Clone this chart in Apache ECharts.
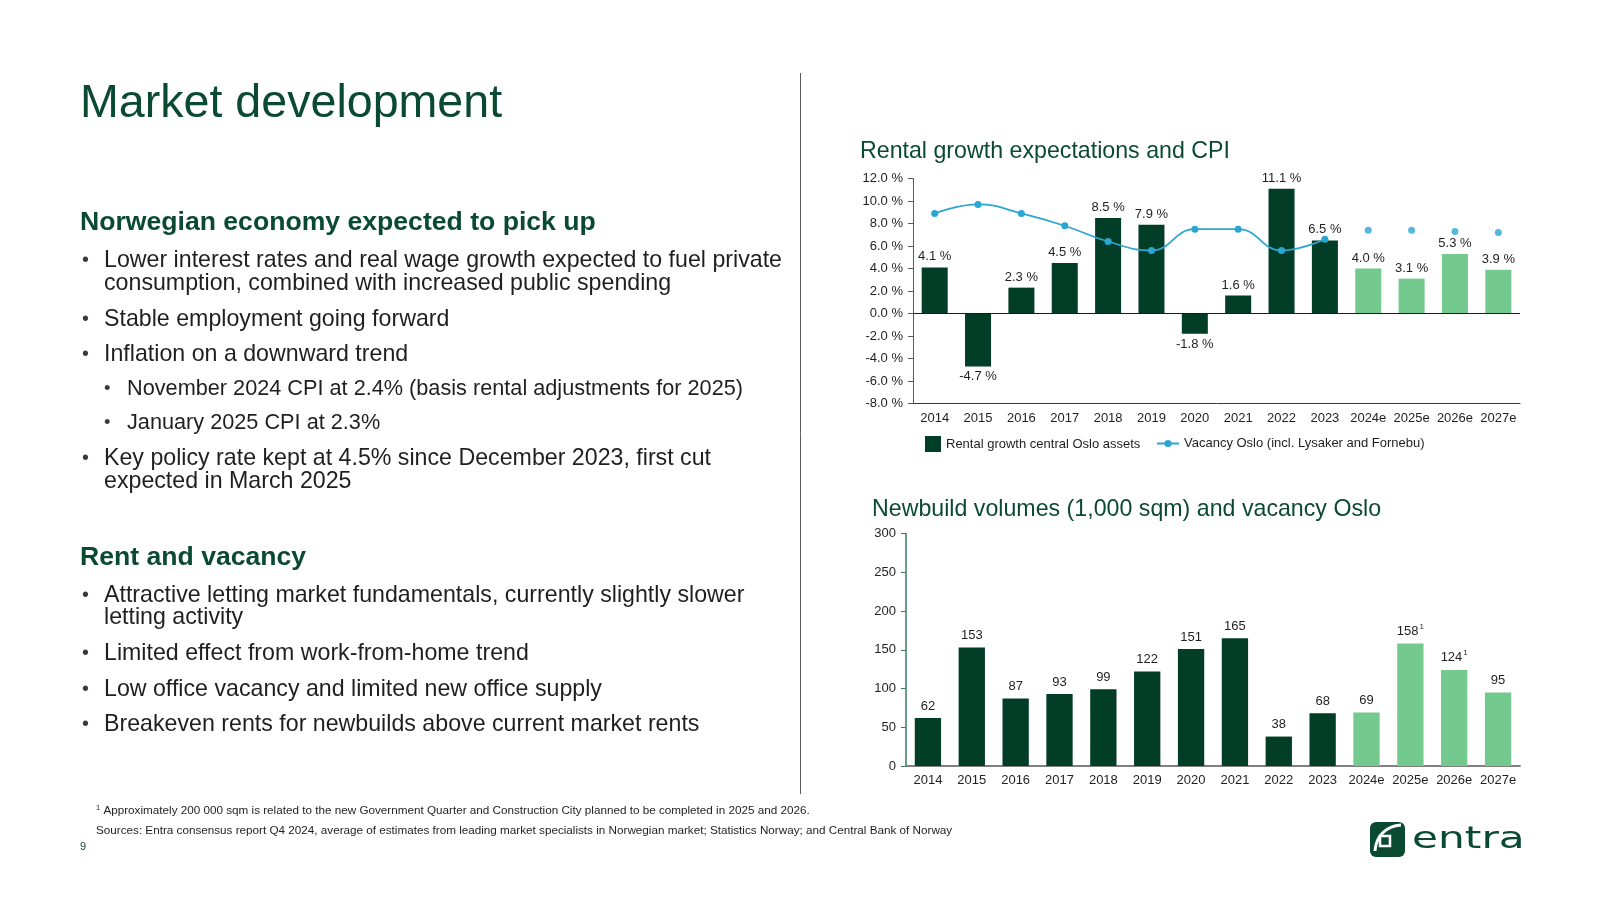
<!DOCTYPE html>
<html>
<head>
<meta charset="utf-8">
<script src="https://cdn.jsdelivr.net/npm/echarts/dist/echarts.min.js"></script>
<style>
html,body{margin:0;padding:0;background:#fff;}
#main{width:1600px;height:900px;}
</style>
</head>
<body>
<div id="main"></div>
<script>
// ---------- DATA ----------
const categories = ['2014','2015','2016','2017','2018','2019','2020','2021','2022','2023','2024e','2025e','2026e','2027e'];
const rentalGrowth = [4.1, -4.7, 2.3, 4.5, 8.5, 7.9, -1.8, 1.6, 11.1, 6.5, 4.0, 3.1, 5.3, 3.9];
const vacancyHistoric = [8.9, 9.7, 8.9, 7.8, 6.4, 5.6, 7.5, 7.5, 5.6, 6.6, null, null, null, null];
const vacancyForecast = [null, null, null, null, null, null, null, null, null, null, 7.4, 7.4, 7.3, 7.2];
const newbuildVolumes = [62, 153, 87, 93, 99, 122, 151, 165, 38, 68, 69, 158, 124, 95];
const newbuildNotes = ['', '', '', '', '', '', '', '', '', '', '', '1', '1', ''];
const rentalTicks = [-8, -6, -4, -2, 0, 2, 4, 6, 8, 10, 12];
const newbuildTicks = [0, 50, 100, 150, 200, 250, 300];

const slideTitle = 'Market development';
const chartTitle1 = 'Rental growth expectations and CPI';
const chartTitle2 = 'Newbuild volumes (1,000 sqm) and vacancy Oslo';
const legendBar = 'Rental growth central Oslo assets';
const legendLine = 'Vacancy Oslo (incl. Lysaker and Fornebu)';
const heading1 = 'Norwegian economy expected to pick up';
const bullets1 = [
  [1, ['Lower interest rates and real wage growth expected to fuel private', 'consumption, combined with increased public spending']],
  [1, ['Stable employment going forward']],
  [1, ['Inflation on a downward trend']],
  [2, ['November 2024 CPI at 2.4% (basis rental adjustments for 2025)']],
  [2, ['January 2025 CPI at 2.3%']],
  [1, ['Key policy rate kept at 4.5% since December 2023, first cut', 'expected in March 2025']]
];
const heading2 = 'Rent and vacancy';
const bullets2 = [
  [1, ['Attractive letting market fundamentals, currently slightly slower', 'letting activity']],
  [1, ['Limited effect from work-from-home trend']],
  [1, ['Low office vacancy and limited new office supply']],
  [1, ['Breakeven rents for newbuilds above current market rents']]
];
const footnote1 = 'Approximately 200 000 sqm is related to the new Government Quarter and Construction City planned to be completed in 2025 and 2026.';
const footnote2 = 'Sources: Entra consensus report Q4 2024, average of estimates from leading market specialists in Norwegian market; Statistics Norway; and Central Bank of Norway';
const pageNumber = '9';
const logoText = 'entra';

// ---------- STYLE ----------
const FONT = '"Liberation Sans", Arial, Helvetica, sans-serif';
const GREEN = '#0b4a32';
const DARK = '#023d28';
const LIGHT = '#74c98f';
const BLUE = '#2aa6d2';
const TXT = '#1f1f1f';
const isEst = c => /e$/.test(c);

const chart = echarts.init(document.getElementById('main'), null, {renderer: 'canvas'});

// ---------- LEFT TEXT (graphic) ----------
const g = [];
function txt(x, y, text, size, opts) {
  opts = opts || {};
  g.push({
    type: 'text', x: x, y: y, silent: true,
    scaleX: opts.scaleX || 1,
    style: {
      text: text, fontSize: size, fontFamily: opts.family || FONT,
      fontWeight: opts.weight || 'normal', fill: opts.fill || TXT,
      verticalAlign: opts.va || 'middle', align: opts.align || 'left'
    }
  });
}
txt(80, 104, slideTitle, 46.6, {fill: GREEN});

const BULLET_X1 = 82, TEXT_X1 = 104, BULLET_X2 = 104, TEXT_X2 = 127;
function block(headY, head, items, ys, lineGap) {
  txt(80, headY, head, 26.6, {fill: GREEN, weight: 'bold'});
  let k = 0;
  items.forEach(function (it) {
    const lvl = it[0], lines = it[1];
    const bx = lvl === 1 ? BULLET_X1 : BULLET_X2;
    const tx = lvl === 1 ? TEXT_X1 : TEXT_X2;
    const fs = lvl === 1 ? 23.2 : 21.7;
    txt(bx, ys[k], '\u2022', fs * 0.85, {fill: '#3a3a3a'});
    lines.forEach(function (ln, j) {
      txt(tx, ys[k] + j * lineGap, ln, fs, {fill: TXT});
    });
    k++;
  });
}
block(223, heading1, bullets1, [261, 320, 355, 389, 423, 459], 22.3);
block(558, heading2, bullets2, [596, 654, 690, 725], 21.5);

// footnotes
g.push({
  type: 'text', x: 96, y: 811, silent: true,
  style: {
    text: '{s|1} ' + footnote1, fontSize: 11.7, fontFamily: FONT, fill: TXT, verticalAlign: 'middle',
    rich: {s: {fontSize: 7.5, fontFamily: FONT, fill: TXT, verticalAlign: 'top', padding: [0, 0, 6, 0]}}
  }
});
txt(96, 831, footnote2, 11.7, {fill: TXT});
txt(80, 847, pageNumber, 11, {fill: GREEN});

// divider
g.push({type: 'line', silent: true, shape: {x1: 800.5, y1: 73, x2: 800.5, y2: 794}, style: {stroke: '#595959', lineWidth: 1}});

// chart titles
txt(860, 152, chartTitle1, 23.2, {fill: GREEN});
txt(872, 510, chartTitle2, 23.2, {fill: GREEN});

// logo
g.push({type: 'rect', silent: true, shape: {x: 1370, y: 822, width: 35, height: 35, r: 6}, style: {fill: GREEN}});
g.push({type: 'bezierCurve', silent: true,
  shape: {x1: 1375, y1: 851, cpx1: 1376, cpy1: 836, cpx2: 1386, cpy2: 826, x2: 1401, y2: 825},
  style: {stroke: '#fff', lineWidth: 3, fill: null}});
g.push({type: 'rect', silent: true, shape: {x: 1380, y: 836, width: 10, height: 10}, style: {fill: GREEN, stroke: '#fff', lineWidth: 2.5}});
txt(1412, 840, logoText, 30, {fill: GREEN, family: '"DejaVu Sans", sans-serif', scaleX: 1.41});

// ---------- CHARTS ----------
const barData1 = rentalGrowth.map(function (v, i) {
  return {
    value: v,
    itemStyle: {color: isEst(categories[i]) ? LIGHT : DARK},
    label: {position: v < 0 ? 'bottom' : 'top'}
  };
});
const barData2 = newbuildVolumes.map(function (v, i) {
  return {value: v, itemStyle: {color: isEst(categories[i]) ? LIGHT : DARK}};
});

const axisLabelStyle = {fontSize: 13, fontFamily: FONT, color: TXT};

const option = {
  animation: false,
  backgroundColor: '#fff',
  textStyle: {fontFamily: FONT},
  graphic: g,
  legend: [
    {
      data: [{name: legendBar, icon: 'rect'}],
      left: 920, top: 431, itemWidth: 16, itemHeight: 16, itemGap: 10,
      textStyle: {fontSize: 13, color: TXT, fontFamily: FONT}, selectedMode: false
    },
    {
      data: [legendLine],
      left: 1151, top: 432, itemWidth: 22, itemHeight: 9, itemGap: 10,
      textStyle: {fontSize: 13, color: TXT, fontFamily: FONT}, selectedMode: false
    }
  ],
  grid: [
    {left: 913, right: 80, top: 178.5, height: 225, containLabel: false},
    {left: 906, right: 80, top: 533.5, height: 232.5, containLabel: false}
  ],
  xAxis: [
    {
      gridIndex: 0, type: 'category', data: categories,
      axisLine: {onZero: false, lineStyle: {color: '#3a3a3a', width: 1}},
      axisTick: {show: false},
      axisLabel: Object.assign({margin: 8, interval: 0}, axisLabelStyle)
    },
    {
      gridIndex: 1, type: 'category', data: categories,
      axisLine: {lineStyle: {color: '#808080', width: 2}},
      axisTick: {show: false},
      axisLabel: Object.assign({margin: 8, interval: 0}, axisLabelStyle)
    }
  ],
  yAxis: [
    {
      gridIndex: 0, type: 'value',
      min: rentalTicks[0], max: rentalTicks[rentalTicks.length - 1], interval: rentalTicks[1] - rentalTicks[0],
      axisLine: {show: true, lineStyle: {color: '#595959', width: 1}},
      axisTick: {show: true, length: 5, lineStyle: {color: '#595959'}},
      splitLine: {show: false},
      axisLabel: Object.assign({margin: 10, formatter: function (v) { return v.toFixed(1) + ' %'; }}, axisLabelStyle)
    },
    {
      gridIndex: 1, type: 'value',
      min: newbuildTicks[0], max: newbuildTicks[newbuildTicks.length - 1], interval: newbuildTicks[1] - newbuildTicks[0],
      axisLine: {show: true, lineStyle: {color: '#3d7a63', width: 1.5}},
      axisTick: {show: true, length: 5, lineStyle: {color: '#3d7a63'}},
      splitLine: {show: false},
      axisLabel: Object.assign({margin: 10}, axisLabelStyle)
    }
  ],
  series: [
    {
      name: legendBar, type: 'bar', xAxisIndex: 0, yAxisIndex: 0,
      data: barData1, barCategoryGap: '40%',
      itemStyle: {color: DARK},
      label: {
        show: true, distance: 4, fontSize: 13, fontFamily: FONT, color: TXT,
        formatter: function (p) { return p.value.toFixed(1) + ' %'; }
      },
      markLine: {
        silent: true, symbol: 'none', label: {show: false},
        lineStyle: {color: '#1a1a1a', type: 'solid', width: 1.2},
        data: [{yAxis: 0}]
      },
      z: 2
    },
    {
      name: legendLine, type: 'line', xAxisIndex: 0, yAxisIndex: 0,
      data: vacancyHistoric, smooth: 0.45, connectNulls: false,
      symbol: 'circle', symbolSize: 7, showAllSymbol: true,
      lineStyle: {color: BLUE, width: 1.8},
      itemStyle: {color: BLUE},
      z: 5
    },
    {
      name: 'Vacancy forecast', type: 'scatter', xAxisIndex: 0, yAxisIndex: 0,
      data: vacancyForecast, symbol: 'circle', symbolSize: 7,
      itemStyle: {color: BLUE}, z: 5
    },
    {
      name: 'Newbuild volumes', type: 'bar', xAxisIndex: 1, yAxisIndex: 1,
      data: barData2, barCategoryGap: '40%',
      label: {
        show: true, position: 'top', distance: 4,
        formatter: function (p) {
          const n = newbuildNotes[p.dataIndex];
          return n ? '{v|' + p.value + '}{s|' + n + '}' : '{v|' + p.value + '}';
        },
        rich: {
          v: {fontSize: 13, fontFamily: FONT, color: TXT, lineHeight: 16},
          s: {fontSize: 8, fontFamily: FONT, color: TXT, verticalAlign: 'top', padding: [0, 0, 9, 1]}
        }
      }
    }
  ]
};
chart.setOption(option);
</script>
</body>
</html>
